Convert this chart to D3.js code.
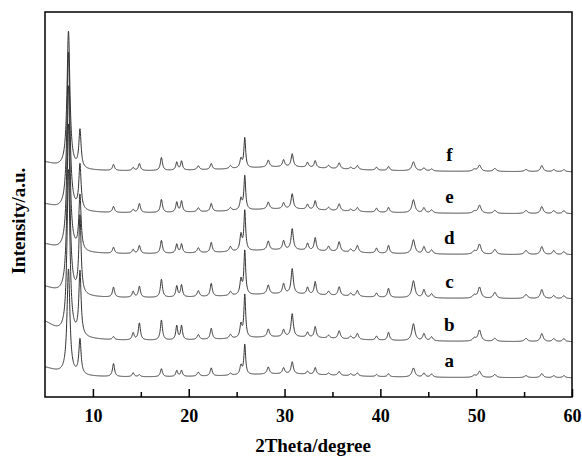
<!DOCTYPE html>
<html>
<head>
<meta charset="utf-8">
<script src="https://cdn.jsdelivr.net/npm/d3@7"></script>
<style>
body { margin: 0; background: #fff; }
text { font-family: "Liberation Serif", "Times New Roman", serif; font-weight: bold; }
</style>
</head>
<body>
<script>
// reflection positions (2theta, degree) shared by all samples
var peakPos   = [7.45, 8.65, 12.15, 14.2, 14.85, 17.15, 18.75, 19.25, 21.0, 22.35, 24.35, 25.45, 25.85, 28.3, 29.9, 30.8, 32.4, 33.2, 34.6, 35.7, 36.9, 37.6, 39.6, 40.85, 43.45, 44.55, 45.35, 49.8, 50.35, 51.95, 55.2, 56.85, 58.1, 59.15];
var peakWidth = [0.18, 0.14, 0.13, 0.13, 0.13, 0.13, 0.12, 0.12, 0.15, 0.13, 0.15, 0.13, 0.11, 0.15, 0.14, 0.14, 0.13, 0.13, 0.15, 0.15, 0.15, 0.15, 0.13, 0.13, 0.19, 0.15, 0.16, 0.2, 0.19, 0.19, 0.2, 0.17, 0.16, 0.16];

var samples = ["a", "b", "c", "d", "e", "f"];
// peak intensities (a.u.) per sample, same order as peakPos
var intA = [105, 35, 13, 4, 2, 8, 6, 6, 4, 8, 2, 9, 30, 7, 6, 12, 3, 7, 2, 4, 2, 3, 2, 3, 9, 4, 3, 2, 6, 3, 2, 4, 2, 2];
var intB = [165, 64, 3, 7, 17, 20, 14, 14, 5, 11, 4, 13, 43, 8, 7, 23, 5, 11, 3, 8, 3, 6, 4, 8, 17, 7, 4, 3, 11, 3, 3, 8, 3, 3];
var intC = [170, 78, 10, 6, 11, 18, 11, 12, 6, 13, 4, 15, 44, 9, 10, 25, 7, 13, 4, 9, 3, 6, 4, 9, 17, 8, 4, 3, 11, 6, 4, 9, 3, 3];
var intD = [165, 55, 6, 4, 8, 13, 9, 9, 5, 10, 5, 16, 40, 9, 9, 21, 7, 13, 5, 10, 3, 7, 5, 8, 14, 7, 4, 3, 10, 5, 4, 8, 4, 3];
var intE = [158, 45, 6, 3, 9, 13, 10, 11, 4, 8, 3, 11, 34, 7, 6, 15, 5, 9, 3, 7, 2, 4, 4, 5, 13, 5, 3, 2, 8, 3, 3, 7, 3, 3];
var intF = [137, 38, 6, 3, 7, 13, 8, 9, 4, 6, 3, 9, 30, 7, 7, 13, 5, 7, 3, 6, 2, 4, 3, 4, 9, 3, 2, 2, 6, 3, 2, 6, 2, 2];
// low angle background and amorphous hump (a.u.)
var bgLow  = [11, 21, 12.5, 11, 10, 10];
var bgHump = [4, 5, 5, 5, 5, 5];
// vertical stacking offsets (a.u.)
var offsets = [19, 55, 98, 142, 183, 225];

var xTicks = [10, 20, 30, 40, 50, 60];
var xMinor = [15, 25, 35, 45, 55];

var W = 582, H = 458;
var mLeft = 45, mRight = 572, mTop = 12, mBottom = 397;

var svg = d3.select("body").append("svg")
	.attr("width", W)
	.attr("height", H);

var x = d3.scaleLinear().domain([5, 60]).range([mLeft, mRight]);
var y = d3.scaleLinear().domain([0, 385]).range([mBottom, mTop]);

svg.append("clipPath").attr("id", "clip")
	.append("rect").attr("x", mLeft).attr("y", mTop)
	.attr("width", mRight - mLeft).attr("height", mBottom - mTop);

function lor(t, c, g, h) {
	return h * g * g / ((t - c) * (t - c) + g * g);
}

var grid = d3.range(5, 60.001, 0.02);
var intensities = [intA, intB, intC, intD, intE, intF];

var traces = samples.map(function (s, k) {
	return grid.map(function (t) {
		var v = offsets[k] + lor(t, 4.5, 2, bgLow[k]) + lor(t, 30, 7, bgHump[k]);
		for (var i = 0; i < peakPos.length; i++) {
			v += lor(t, peakPos[i], peakWidth[i], intensities[k][i]);
		}
		return [t, v];
	});
});

var line = d3.line()
	.x(function (d) { return x(d[0]); })
	.y(function (d) { return y(d[1]); });

svg.append("g").attr("clip-path", "url(#clip)")
	.selectAll("path")
	.data(traces)
	.enter().append("path")
	.attr("d", line)
	.attr("fill", "none")
	.attr("stroke", "#333")
	.attr("stroke-width", 1);

// sample labels
svg.selectAll(".lab")
	.data(samples)
	.enter().append("text")
	.attr("class", "lab")
	.attr("x", x(47.2))
	.attr("y", function (d, k) { return y(offsets[k] + 11); })
	.attr("text-anchor", "middle")
	.attr("font-size", 19)
	.text(function (d) { return d; });

// axes
var ax = svg.append("g")
	.attr("transform", "translate(0," + mBottom + ")")
	.call(d3.axisBottom(x).tickValues(xTicks).tickSize(-8).tickPadding(12).tickFormat(d3.format("d")));
ax.select(".domain").remove();
ax.selectAll("line").attr("stroke", "#000").attr("stroke-width", 1.5);
ax.selectAll("text").attr("font-size", 18).attr("fill", "#000")
	.style("font-family", "'Liberation Serif', 'Times New Roman', serif");

var axm = svg.append("g")
	.attr("transform", "translate(0," + mBottom + ")")
	.call(d3.axisBottom(x).tickValues(xMinor).tickSize(-5).tickFormat(""));
axm.select(".domain").remove();
axm.selectAll("line").attr("stroke", "#000").attr("stroke-width", 1.5);

svg.append("rect")
	.attr("x", mLeft).attr("y", mTop)
	.attr("width", mRight - mLeft).attr("height", mBottom - mTop)
	.attr("fill", "none").attr("stroke", "#000").attr("stroke-width", 1.5);

svg.append("text")
	.attr("x", 313).attr("y", 452)
	.attr("text-anchor", "middle")
	.attr("font-size", 19)
	.text("2Theta/degree");

svg.append("text")
	.attr("transform", "translate(25,221)rotate(-90)")
	.attr("text-anchor", "middle")
	.attr("font-size", 19)
	.text("Intensity/a.u.");
</script>
</body>
</html>
